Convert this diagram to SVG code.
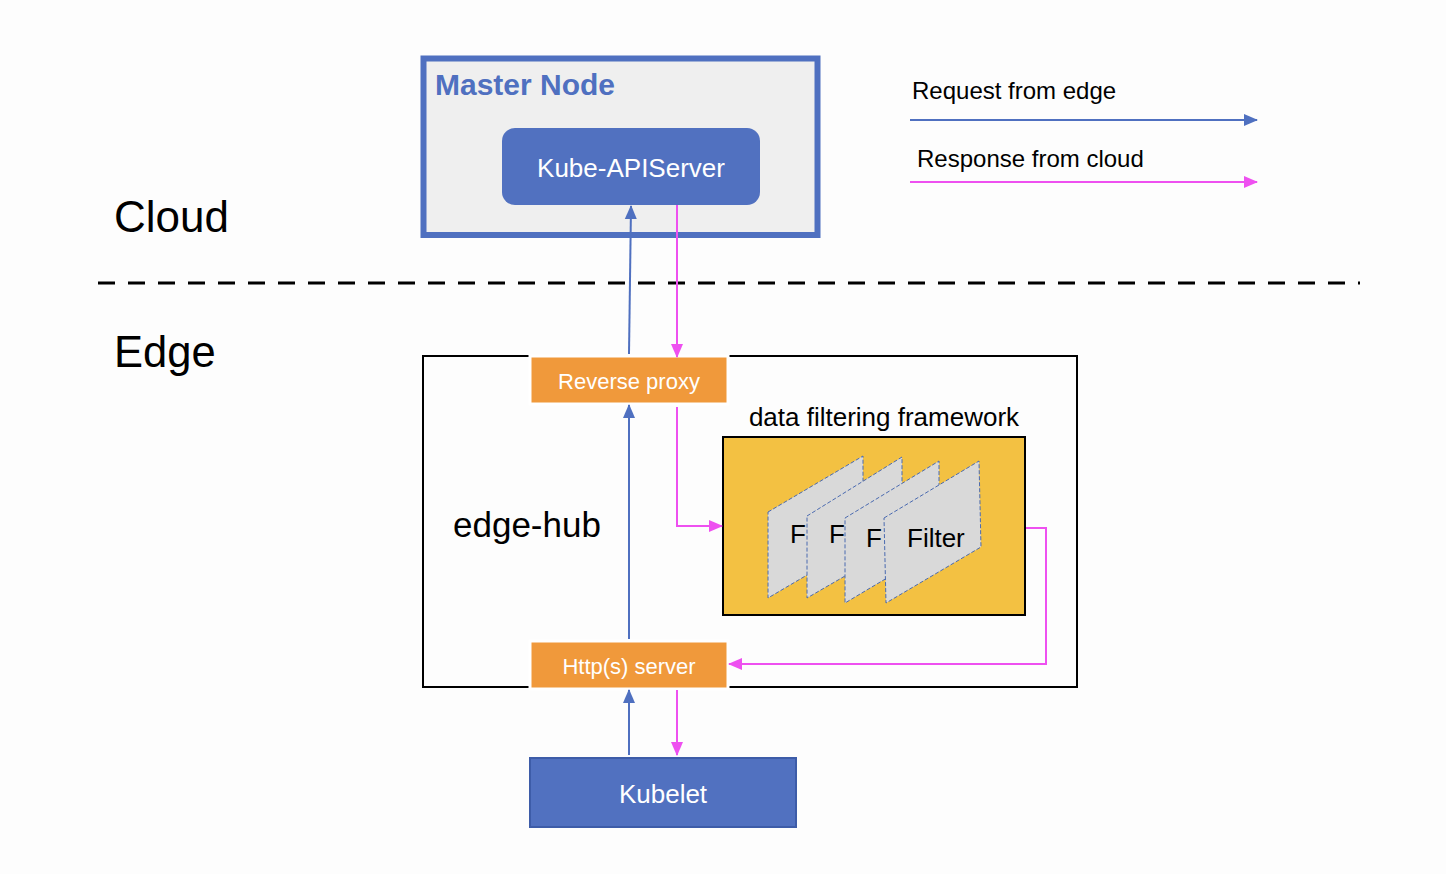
<svg xmlns="http://www.w3.org/2000/svg" width="1446" height="874" viewBox="0 0 1446 874">
<defs>
<style>
text{font-family:"Liberation Sans",Arial,sans-serif}
.blue{stroke:#4f70c0;stroke-width:2;fill:none}
.mag{stroke:#ee50f0;stroke-width:2;fill:none}
.orange{fill:#f0993b;stroke:#ffffff;stroke-width:3}
.wt{fill:#ffffff}
.flt{fill:#d9d9d9;stroke:#4a6ab0;stroke-width:1;stroke-dasharray:4,2}
</style>
<marker id="ab" markerUnits="userSpaceOnUse" markerWidth="14" markerHeight="14" viewBox="0 0 14 14" refX="13" refY="7" orient="auto">
<path d="M0,1 L14,7 L0,13 Z" fill="#4f70c0"/>
</marker>
<marker id="am" markerUnits="userSpaceOnUse" markerWidth="14" markerHeight="14" viewBox="0 0 14 14" refX="13" refY="7" orient="auto">
<path d="M0,1 L14,7 L0,13 Z" fill="#ee50f0"/>
</marker>
</defs>
<rect width="1446" height="874" fill="#fdfdfd"/>

<g id="zones">
<text x="114" y="232" font-size="44" fill="#000">Cloud</text>
<text x="114" y="367" font-size="43.5" fill="#000">Edge</text>
<line x1="98" y1="283" x2="1360" y2="283" stroke="#000" stroke-width="3" stroke-dasharray="17,13"/>
</g>

<g id="legend">
<text x="912" y="99" font-size="24" fill="#000">Request from edge</text>
<line x1="910" y1="120" x2="1257" y2="120" class="blue" marker-end="url(#ab)"/>
<text x="917" y="167" font-size="24" fill="#000">Response from cloud</text>
<line x1="910" y1="182" x2="1257" y2="182" class="mag" marker-end="url(#am)"/>
</g>

<g id="master-node">
<rect x="423.5" y="58.5" width="394" height="176.5" fill="#efefef" stroke="#4f70c0" stroke-width="6"/>
<text x="435" y="95" font-size="30" font-weight="bold" fill="#4f70c0">Master Node</text>
</g>

<g id="kube-apiserver">
<rect x="502" y="128" width="258" height="77" rx="13" fill="#5171c0"/>
<text x="631" y="177" font-size="26" text-anchor="middle" class="wt">Kube-APIServer</text>
</g>

<g id="edge-hub">
<rect x="423" y="356" width="654" height="331" fill="none" stroke="#000" stroke-width="2"/>
<text x="453" y="537" font-size="35" fill="#000">edge-hub</text>
</g>

<g id="reverse-proxy">
<rect x="530" y="356" width="198" height="48" class="orange"/>
<text x="629" y="389" font-size="22" text-anchor="middle" class="wt">Reverse proxy</text>
</g>

<g id="https-server">
<rect x="530" y="641" width="198" height="48" class="orange"/>
<text x="629" y="674" font-size="22" text-anchor="middle" class="wt">Http(s) server</text>
</g>

<g id="data-filtering-framework">
<text x="884" y="426" font-size="26" text-anchor="middle" fill="#000">data filtering framework</text>
<rect x="723" y="437" width="302" height="178" fill="#f3c142" stroke="#000" stroke-width="2"/>
<polygon points="768,512 863,456 863,542 768,598" class="flt"/>
<text x="790" y="543" font-size="26" fill="#000">F</text>
<polygon points="807,516 902,457 902,543 807,598" class="flt"/>
<text x="829" y="543" font-size="26" fill="#000">F</text>
<polygon points="845,518 939,461 939,547 845,603" class="flt"/>
<text x="866" y="547" font-size="26" fill="#000">F</text>
<polygon points="884,518 979,461 981,547 886,603" class="flt"/>
<text x="907" y="547" font-size="26" fill="#000">Filter</text>
</g>

<g id="kubelet">
<rect x="530" y="758" width="266" height="69" fill="#5171c0" stroke="#3d5ca8" stroke-width="2"/>
<text x="663" y="803" font-size="26" text-anchor="middle" class="wt">Kubelet</text>
</g>

<g id="connectors">
<line x1="629" y1="354" x2="631" y2="206" class="blue" marker-end="url(#ab)"/>
<line x1="677" y1="205" x2="677" y2="357" class="mag" marker-end="url(#am)"/>
<line x1="629" y1="639" x2="629" y2="405" class="blue" marker-end="url(#ab)"/>
<polyline points="677,407 677,526 722,526" class="mag" marker-end="url(#am)"/>
<polyline points="1026,528 1046,528 1046,664 729,664" class="mag" marker-end="url(#am)"/>
<line x1="629" y1="755" x2="629" y2="690" class="blue" marker-end="url(#ab)"/>
<line x1="677" y1="690" x2="677" y2="755" class="mag" marker-end="url(#am)"/>
</g>
</svg>
